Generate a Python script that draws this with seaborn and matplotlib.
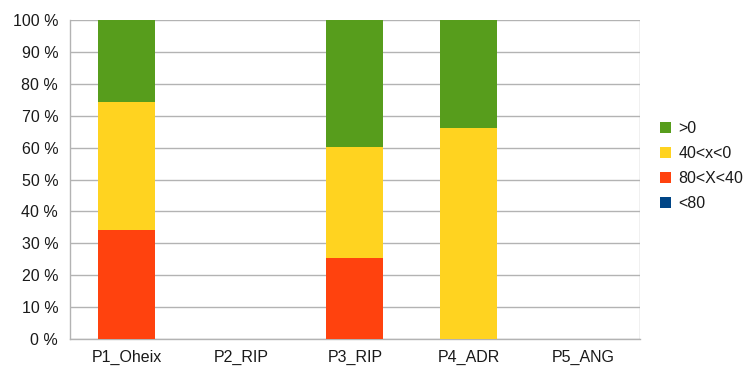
import matplotlib
matplotlib.use("Agg")
import matplotlib.pyplot as plt
from matplotlib.patches import Patch
from matplotlib.ticker import FuncFormatter
import numpy as np
import pandas as pd
import seaborn as sns

# Data (percent share per site)
categories = ["P1_Oheix", "P2_RIP", "P3_RIP", "P4_ADR", "P5_ANG"]
series_names = [">0", "40<x<0", "80<X<40", "<80"]
share_gt0 = [25.6, 0, 39.8, 33.9, 0]
share_40_0 = [40.2, 0, 34.7, 66.1, 0]
share_80_40 = [34.2, 0, 25.5, 0, 0]
share_lt80 = [0, 0, 0, 0, 0]
colors = ["#579d1c", "#ffd320", "#ff420e", "#004586"]

sns.set_theme(style="white")
plt.rcParams["font.family"] = ["Liberation Sans", "DejaVu Sans"]

# stacked from the bottom: <80, 80<X<40, 40<x<0, >0
stack = [share_lt80, share_80_40, share_40_0, share_gt0]
cum = np.cumsum(np.array(stack), axis=0)

fig = plt.figure(figsize=(7.44, 3.69), dpi=100)
ax = fig.add_axes([0.094, 0.0813, 0.766, 0.8645])

# draw tallest cumulative first, lower ones on top
for i in range(len(stack) - 1, -1, -1):
    df = pd.DataFrame({"cat": categories, "val": cum[i]})
    sns.barplot(data=df, x="cat", y="val", color=colors[len(stack) - 1 - i],
                width=0.5, saturation=1, ax=ax, linewidth=0, zorder=3)

ax.set_ylim(0, 100)
ax.set_xlim(-0.5, 4.5)
ax.set_yticks(np.arange(0, 101, 10))
ax.yaxis.set_major_formatter(FuncFormatter(lambda v, p: f"{int(v)} %"))
ax.set_xticks(np.arange(-0.5, 5, 1), minor=False)
ax.set_xticks(range(5), minor=True)
ax.set_xticklabels([""] * 6)
ax.set_xticklabels(categories, minor=True)
ax.tick_params(axis="x", which="major", length=6, color="#b3b3b3", width=1)
ax.tick_params(axis="x", which="minor", length=0, pad=8, labelsize=11.5, labelcolor="#1a1a1a")
ax.tick_params(axis="y", length=5, color="#b3b3b3", width=1, labelsize=11.5, labelcolor="#1a1a1a")
ax.set_xlabel("")
ax.set_ylabel("")
ax.grid(axis="y", color="#b3b3b3", linewidth=1, zorder=0)
ax.set_axisbelow(True)
for side in ["top", "right"]:
    ax.spines[side].set_visible(False)
for side in ["left", "bottom"]:
    ax.spines[side].set_color("#b3b3b3")
    ax.spines[side].set_linewidth(1)
# right-hand gridline end
ax.axvline(4.5, color="#b3b3b3", linewidth=1, zorder=0)

handles = [Patch(facecolor=c, edgecolor="none") for c in colors]
fig.legend(handles, series_names, loc="center left", bbox_to_anchor=(0.868, 0.55),
           frameon=False, fontsize=11.5, handlelength=0.7, handleheight=0.7,
           handletextpad=0.45, labelspacing=0.62, labelcolor="#1a1a1a")

fig.savefig("out.png", dpi=100)
